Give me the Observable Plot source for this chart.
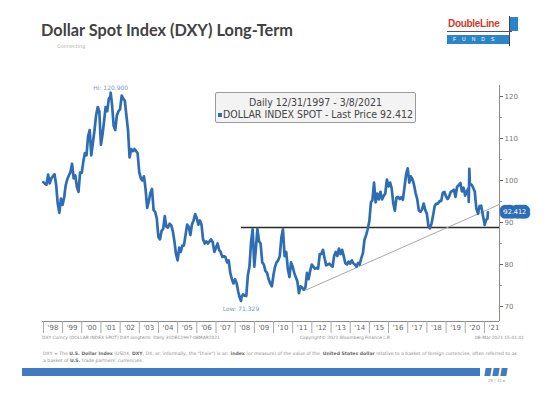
<!DOCTYPE html>
<html>
<head>
<meta charset="utf-8">
<script src="https://cdn.jsdelivr.net/npm/d3@7"></script>
<script src="https://cdn.jsdelivr.net/npm/@observablehq/plot@0.6"></script>
<style>
  html, body { margin: 0; padding: 0; background: #fff; }
  #page { position: relative; width: 554px; height: 393px; overflow: hidden; background: #fff; font-family: "DejaVu Sans", sans-serif; }
  .abs { position: absolute; white-space: nowrap; }
  #title { left: 41px; top: 20px; font-family: Lato, sans-serif; font-weight: 700; font-size: 16.3px; color: #424242; }
  #sub { left: 57px; top: 43px; font-size: 5px; color: #b0b0b0; }
  #chart { position: absolute; left: 0; top: 60px; }
  #legend { left: 215px; top: 92px; width: 201px; border: 1px solid #9a9a9a; background: #f3f3f3; border-radius: 2px;
            font-family: "DejaVu Sans Condensed", "DejaVu Sans", sans-serif; font-size: 10.5px; color: #444; text-align: center; line-height: 12px; padding-top: 3px; box-sizing: border-box; height: 31px; }
  #legend .sq { display: inline-block; width: 4px; height: 4px; background: #2e6db4; vertical-align: middle; margin-right: 1px; }
  .foot { font-size: 4.4px; color: #8a8a8a; }
  .desc { font-size: 4.6px; color: #8a8a8a; }
  .desc b { color: #6a6a6a; }
</style>
</head>
<body>
<div id="page">
  <div id="title" class="abs">Dollar Spot Index (DXY) Long-Term</div>
  <div id="sub" class="abs">Connecting</div>

  <!-- logo -->
  <div class="abs" style="left:448px;top:18px;width:62px;height:14px;font-family:'Liberation Sans',sans-serif;font-weight:700;font-size:10px;color:#d33a2c;letter-spacing:-0.3px;">DoubleLine</div>
  <div class="abs" style="left:447px;top:31px;width:65px;height:1px;background:#555;"></div>
  <div class="abs" style="left:447px;top:35px;width:62px;height:9px;background:#2b86c9;color:#fff;font-size:5px;letter-spacing:6px;line-height:9px;padding-left:6px;box-sizing:border-box;font-family:'Liberation Sans',sans-serif;">FUNDS</div>
  <div class="abs" style="left:509px;top:16px;width:1px;height:30px;background:#444;"></div>
  <div class="abs" style="left:510px;top:17px;width:8px;height:14px;background:#2b86c9;"></div>

  <div id="chart"></div>

  <div id="legend" class="abs">Daily 12/31/1997 - 3/8/2021<br><span class="sq"></span>DOLLAR INDEX SPOT - Last Price 92.412</div>

  <div class="abs foot" style="left:42px;top:335px;">DXY Curncy (DOLLAR INDEX SPOT) DXY longterm &nbsp;Daily 31DEC1997-08MAR2021</div>
  <div class="abs foot" style="left:300px;top:335px;">Copyright© 2021 Bloomberg Finance L.P.</div>
  <div class="abs foot" style="left:475px;top:335px;">08-Mar-2021 15:01:01</div>

  <div class="abs desc" style="left:43px;top:351px;">DXY = The <b>U.S. Dollar Index</b> (USDX, <b>DXY</b>, DX, or, informally, the "Dixie") is an &nbsp;<b>index</b> (or measure) of the value of the &nbsp;<b>United States dollar</b> relative to a basket of foreign currencies, often referred to as</div>
  <div class="abs desc" style="left:43px;top:358px;">a basket of <b>U.S.</b> trade partners' currencies.</div>

  <div class="abs" style="left:22px;top:368px;width:458px;height:8px;background:#3f7bc0;"></div>
  <div class="abs" style="left:485px;top:368px;width:6px;height:8px;background:#3f7bc0;transform:skewX(-10deg);"></div>
  <div class="abs" style="left:493px;top:368px;width:6px;height:8px;background:#3f7bc0;transform:skewX(-10deg);"></div>
  <div class="abs" style="left:501px;top:368px;width:6px;height:8px;background:#3f7bc0;transform:skewX(-10deg);"></div>
  <div class="abs" style="left:488px;top:378px;font-size:4px;color:#999;">25 | 31 ▸</div>
</div>

<script>
// ---- Data (monthly representative closes) ----
const startValue = [["1997-12-31", 99.6]];
const y1998 = [99.2, 99.0, 101.4, 99.3, 100.5, 101.0, 101.5, 99.0, 94.5, 92.3, 95.7, 94.2];
const y1999 = [96.0, 98.8, 100.3, 101.2, 102.0, 104.0, 100.5, 101.2, 98.5, 97.3, 101.9, 101.8];
const y2000 = [104.5, 106.5, 106.0, 110.5, 112.0, 106.0, 109.0, 112.0, 115.5, 117.5, 116.5, 108.5];
const y2001 = [111.0, 114.0, 117.5, 116.5, 119.5, 120.0, 118.0, 113.0, 112.0, 115.5, 116.5, 117.0];
const y2002 = [120.2, 119.5, 119.0, 115.5, 112.0, 105.5, 107.5, 107.0, 107.5, 107.0, 106.5, 102.0];
const y2003 = [100.5, 100.0, 101.0, 98.0, 93.5, 95.0, 97.0, 98.0, 93.0, 92.5, 91.0, 86.5];
const y2004 = [86.0, 88.0, 88.5, 91.5, 89.0, 88.8, 89.7, 89.3, 88.0, 85.5, 82.5, 81.0];
const y2005 = [84.0, 83.0, 84.5, 84.5, 87.0, 89.5, 89.0, 87.0, 89.5, 90.5, 92.0, 91.0];
const y2006 = [89.5, 90.5, 89.5, 86.0, 85.0, 85.5, 85.0, 85.5, 86.0, 85.3, 83.0, 84.0];
const y2007 = [85.0, 83.5, 83.0, 81.8, 82.0, 81.8, 80.5, 81.0, 78.0, 76.5, 75.5, 76.5];
const y2008 = [75.5, 73.5, 72.0, 72.2, 72.9, 72.6, 72.5, 77.5, 79.5, 85.5, 88.4, 79.5];
const y2009 = [84.0, 88.5, 85.5, 85.0, 80.5, 80.0, 78.5, 78.0, 76.5, 75.5, 74.8, 77.5];
const y2010 = [79.5, 80.5, 81.0, 82.0, 86.5, 88.4, 82.0, 83.0, 79.0, 77.0, 80.5, 79.5];
const y2011 = [78.0, 77.0, 76.0, 73.2, 74.8, 74.5, 74.0, 74.5, 78.0, 76.5, 78.5, 80.0];
const y2012 = [79.5, 79.0, 79.2, 79.0, 82.5, 82.5, 83.5, 81.5, 79.8, 80.0, 80.2, 79.8];
const y2013 = [79.5, 82.0, 83.0, 82.0, 83.8, 82.5, 83.5, 82.0, 80.3, 80.0, 80.7, 80.2];
const y2014 = [81.0, 80.3, 80.0, 79.5, 80.4, 80.0, 81.5, 82.7, 85.9, 87.0, 88.4, 90.3];
const y2015 = [94.8, 95.3, 99.5, 94.8, 96.9, 95.5, 97.3, 95.5, 96.3, 96.9, 100.2, 98.6];
const y2016 = [99.5, 98.2, 94.6, 92.8, 95.9, 96.1, 95.6, 96.0, 95.4, 98.4, 101.4, 102.9];
const y2017 = [99.5, 101.0, 100.3, 99.0, 97.0, 95.6, 92.9, 92.6, 93.1, 94.5, 93.0, 92.1];
const y2018 = [89.1, 88.6, 89.8, 91.8, 94.0, 94.5, 94.5, 95.1, 95.1, 97.1, 97.3, 96.2];
const y2019 = [95.6, 96.2, 97.3, 97.5, 97.8, 96.1, 98.5, 98.9, 99.4, 97.4, 98.3, 96.4];
const y2020 = [97.4, 98.1, 99.0, 99.0, 98.3, 97.4, 93.3, 92.1, 93.9, 94.0, 91.9, 89.9];
const y2021 = [90.6, 90.9];
const extremes = [["2001-07-05", 120.9], ["2008-04-22", 71.329], ["2020-03-09", 94.9], ["2020-03-19", 102.8], ["2021-01-06", 89.4], ["2021-03-08", 92.412]];

const hiPoint = [["2001-07-05", 120.9, "Hi: 120.900"]];
const lowPoint = [["2008-04-22", 71.329, "Low: 71.329"]];
const lastPrice = [["2021-03-08", 92.412, "92.412"]];
const resistance = [["2008-05-01", 88.8]];           // horizontal line start & level
const trendPts = [["2011-08-20", 73.8], ["2021-10-15", 94.3]];
const yTicks = [70, 80, 90, 100, 110, 120];
const yMinor = [75, 85, 95, 105, 115];
const yearLabels = ["'98","'99","'00","'01","'02","'03","'04","'05","'06","'07","'08","'09","'10","'11","'12","'13","'14","'15","'16","'17","'18","'19","'20","'21"];

// ---- build series ----
const years = [y1998,y1999,y2000,y2001,y2002,y2003,y2004,y2005,y2006,y2007,y2008,y2009,y2010,y2011,y2012,y2013,y2014,y2015,y2016,y2017,y2018,y2019,y2020,y2021];
const data = startValue.map(([d, v]) => ({date: new Date(d), value: v}));
years.forEach((arr, i) => {
  const yr = 1998 + i;
  arr.forEach((v, m) => data.push({date: new Date(Date.UTC(yr, m + 1, 0)), value: v}));
});
extremes.forEach(([d, v]) => data.push({date: new Date(d), value: v}));
data.sort((a, b) => a.date - b.date);

const xMin = new Date("1997-12-14"), xMax = new Date("2021-10-15");
const yDomain = [66.43, 122.62];
const yearStarts = yearLabels.map((_, i) => new Date(Date.UTC(1998 + i, 0, 1)));
const yearMids = yearLabels.map((_, i) => new Date(Date.UTC(1998 + i, 6, 1)));

const blue = "#2e6db4";

const chart = Plot.plot({
  width: 554, height: 280,
  marginLeft: 42, marginRight: 55, marginTop: 25, marginBottom: 19,
  style: {fontFamily: "DejaVu Sans, sans-serif", fontSize: "7px", color: "#666", background: "transparent"},
  x: {type: "utc", domain: [xMin, xMax], label: null},
  y: {domain: yDomain, label: null},
  marks: [
    Plot.ruleX([xMax], {stroke: "#8a8a8a"}),
    Plot.ruleY([yDomain[0]], {stroke: "#8a8a8a"}),
    Plot.axisX({ticks: yearStarts, tickSize: 12, tickFormat: () => "", stroke: "#aaa", label: null}),
    Plot.axisX({ticks: yearMids, tickSize: 0, tickPadding: 4, tickFormat: (d, i) => yearLabels[i], fill: "#666", fontSize: 7, label: null}),
    Plot.axisY({anchor: "right", ticks: yTicks, tickSize: 3, tickPadding: 2, fontSize: 7, fill: "#777", stroke: "#666", label: null}),
    Plot.axisY({anchor: "right", ticks: yMinor, tickSize: 2, tickFormat: () => "", stroke: "#999", label: null}),
    Plot.ruleY(resistance, {x1: d => new Date(d[0]), x2: () => xMax, y: d => d[1], stroke: "#2a2a2a", strokeWidth: 1.4}),
    Plot.line(trendPts, {x: d => new Date(d[0]), y: d => d[1], stroke: "#a8a8a8", strokeWidth: 1}),
    Plot.line(data, {x: "date", y: "value", stroke: blue, strokeWidth: 2.7, strokeLinejoin: "round"}),
    Plot.text(hiPoint, {x: d => new Date(d[0]), y: d => d[1], text: d => d[2], dy: -5, fontSize: 6, fill: "#7b98c4"}),
    Plot.text(lowPoint, {x: d => new Date(d[0]), y: d => d[1], text: d => d[2], dy: 8, dx: 0, fontSize: 6, fill: "#7b98c4"}),
    Plot.text(lastPrice, {x: () => xMax, y: d => d[1], text: d => d[2], dx: 4, textAnchor: "start", fontSize: 6.5, fill: "#fff", stroke: blue, strokeWidth: 9, strokeLinejoin: "round", paintOrder: "stroke"})
  ]
});
document.getElementById("chart").appendChild(chart);
</script>
</body>
</html>
